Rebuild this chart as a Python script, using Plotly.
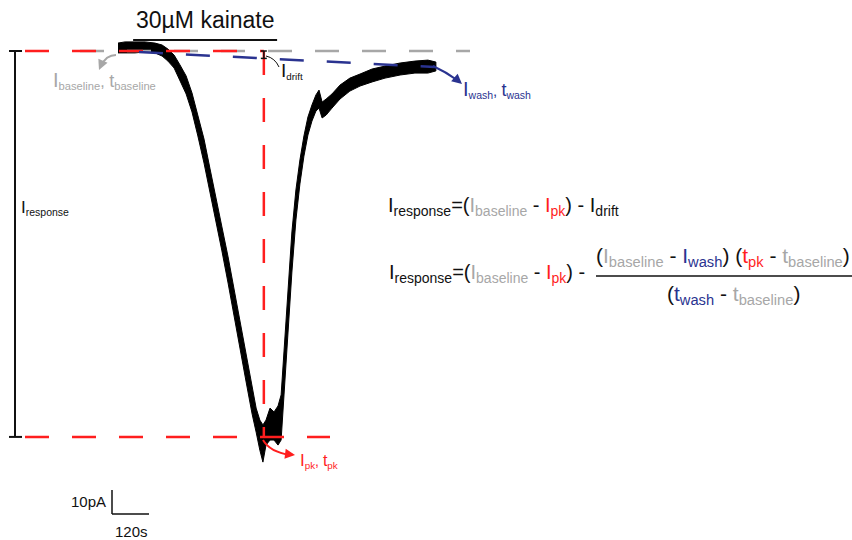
import plotly.graph_objects as go

# ---------------- data ----------------
# time (s) and the upper / lower envelope of the noisy current trace (pA)
trace_t = [0, 23, 55, 88, 120, 143, 162, 182, 201, 221, 240, 259, 279, 298, 318, 337, 357, 376, 396, 415,
           435, 448, 460, 470, 480, 493, 506, 519, 529, 538, 551, 564, 577, 590, 603, 616, 629, 642, 652, 662,
           675, 694, 720, 752, 785, 824, 866, 915, 963, 1005, 1031]
trace_hi = [3.3, 3.8, 3.8, 3.8, 3.3, 2.5, 0.8, -1.7, -5.8, -10.4, -17.5, -26.3, -36.7, -48.8, -60.8, -73.3,
            -85.8, -99.2, -112.9, -125.8, -139.6, -148.8, -153.8, -155.8, -153.8, -148.8, -150.4, -147.9,
            -143.3, -124.6, -100.4, -75.4, -57.9, -45.4, -35.4, -27.5, -22.5, -18.3, -16.3, -21.3, -20.0,
            -17.9, -14.2, -11.3, -9.6, -7.5, -6.3, -5.0, -4.2, -3.8, -4.6]
trace_lo = [-0.8, -0.8, -0.8, -0.4, -0.8, -2.1, -4.2, -7.1, -12.1, -17.9, -25.4, -35.4, -46.7, -58.8,
            -70.8, -83.3, -96.7, -110.0, -123.8, -137.5, -151.3, -158.8, -166.3, -171.3, -164.2, -162.1,
            -162.1, -164.2, -162.1, -141.3, -117.1, -92.1, -70.4, -55.4, -43.8, -35.0, -29.2, -25.0, -23.8,
            -27.9, -26.7, -23.8, -20.0, -16.7, -14.6, -12.9, -11.3, -10.0, -9.2, -9.2, -8.3]

I_baseline = 0.0
t_baseline = 0.0
I_pk = -160.8
t_pk = 473.0
I_wash = -6.7
t_wash = 1028.0

scale_I = 10      # pA
scale_t = 120     # s
scale_labels = ["10pA", "120s"]

drug_label = "30µM kainate"
drug_start = 49
drug_end = 516

# derived drift at the time of the peak (linear baseline drift)
I_drift_level = I_baseline + (I_wash - I_baseline) * (t_pk - t_baseline) / (t_wash - t_baseline)

# ---------------- layout helpers ----------------
W, H = 852, 540
SX = scale_t / 37.0     # seconds per pixel
SY = scale_I / 24.0     # pA per pixel
X0PX, Y0PX = 118, 51    # pixel position of t=0 / I=0


def T(px):
    return (px - X0PX) * SX


def A(py):
    return (Y0PX - py) * SY


def P(px, py):
    return px / W, 1 - py / H


GRAY = "#a7a7a7"
RED = "#ff1e1e"
BLUE = "#2a3390"
BLACK = "#111111"
FONT = "Liberation Sans, Arial, Helvetica, sans-serif"


def col(s, c):
    return f'<span style="color:{c}">{s}</span>'


def big(s, px):
    return f'<span style="font-size:{px}px">{s}</span>'


fig = go.Figure()

# noisy current trace as filled envelope
fig.add_trace(go.Scatter(
    x=trace_t + trace_t[::-1],
    y=trace_hi + trace_lo[::-1],
    fill="toself", fillcolor="black", mode="lines",
    line=dict(color="black", width=1), hoverinfo="skip", showlegend=False))

shapes = []
DASH = "24px,23px"
# gray baseline extension
shapes.append(dict(type="line", xref="x", yref="y", x0=T(80), x1=T(470), y0=I_baseline, y1=I_baseline,
                   line=dict(color=GRAY, width=2.5, dash=DASH)))
# red baseline
shapes.append(dict(type="line", xref="x", yref="y", x0=T(25), x1=t_pk, y0=I_baseline, y1=I_baseline,
                   line=dict(color=RED, width=2.5, dash=DASH)))
# red peak level
shapes.append(dict(type="line", xref="x", yref="y", x0=T(25), x1=T(330), y0=I_pk, y1=I_pk,
                   line=dict(color=RED, width=2.5, dash=DASH)))
# red vertical at t_pk
shapes.append(dict(type="line", xref="x", yref="y", x0=t_pk, x1=t_pk, y0=I_baseline, y1=I_pk,
                   line=dict(color=RED, width=2.5, dash=DASH)))
# blue drift line
shapes.append(dict(type="line", xref="x", yref="y", x0=t_baseline, x1=t_wash, y0=I_baseline, y1=I_wash,
                   line=dict(color=BLUE, width=2.5, dash="0px,21px,24px,2px")))

# response bar
xr = T(15)
shapes.append(dict(type="line", x0=xr, x1=xr, y0=I_baseline, y1=I_pk, line=dict(color=BLACK, width=2)))
for yv in (I_baseline, I_pk):
    shapes.append(dict(type="line", x0=T(9), x1=T(22), y0=yv, y1=yv, line=dict(color=BLACK, width=2)))

# drift marker
shapes.append(dict(type="line", x0=t_pk, x1=t_pk, y0=I_baseline, y1=I_drift_level,
                   line=dict(color=BLACK, width=1.5)))
for yv in (I_baseline, I_drift_level):
    shapes.append(dict(type="line", x0=t_pk - 3 * SX, x1=t_pk + 3 * SX, y0=yv, y1=yv,
                       line=dict(color=BLACK, width=1.5)))

# drug bar
shapes.append(dict(type="line", x0=drug_start, x1=drug_end, y0=A(40), y1=A(40), line=dict(color=BLACK, width=2)))

# scale bar
sbx, sby = T(112), A(514)
shapes.append(dict(type="line", x0=sbx, x1=sbx, y0=sby, y1=sby + scale_I, line=dict(color=BLACK, width=1.5)))
shapes.append(dict(type="line", x0=sbx, x1=sbx + scale_t, y0=sby, y1=sby, line=dict(color=BLACK, width=1.5)))


def curve(p0, c, p1, color, width):
    return dict(type="path", xref="x", yref="y",
                path=f"M {T(p0[0])},{A(p0[1])} Q {T(c[0])},{A(c[1])} {T(p1[0])},{A(p1[1])}",
                line=dict(color=color, width=width))


shapes.append(curve((116, 55), (106, 55), (101, 66), GRAY, 2))
shapes.append(curve((263, 440), (270, 452), (290, 455), RED, 2))
shapes.append(curve((433, 66), (446, 72), (457, 80), BLUE, 2))
shapes.append(curve((266, 56), (275, 58), (279, 67), BLACK, 1))

# fraction bar
fx0, fy = P(596, 276)
shapes.append(dict(type="line", xref="paper", yref="paper", x0=fx0, x1=1, y0=fy, y1=fy,
                   line=dict(color=BLACK, width=1.5)))

ann = []


def head(px, py, ax, ay, color):
    ann.append(dict(x=T(px), y=A(py), xref="x", yref="y", ax=ax, ay=ay, text="", showarrow=True,
                    arrowhead=2, arrowsize=1, arrowwidth=2, arrowcolor=color, standoff=0))


head(99, 70, 3, -7, GRAY)
head(295, 455, -8, -1, RED)
head(462, 84, -7, -6, BLUE)


def text(x, y, s, size, color=BLACK, xanchor="left", xref="x", yref="y"):
    ann.append(dict(x=x, y=y, xref=xref, yref=yref, text=s, showarrow=False, xanchor=xanchor,
                    yanchor="middle", font=dict(family=FONT, size=size, color=color)))


text((drug_start + drug_end) / 2, A(20), drug_label, 23, xanchor="center")
text(T(108), A(501), scale_labels[0], 15, xanchor="right")
text(T(131), A(531), scale_labels[1], 15, xanchor="center")

text(T(19), A(208), big("I", 17) + "<sub>response</sub>", 15)
text(T(51), A(80), big("I", 20) + "<sub>baseline</sub>, " + big("t", 18) + "<sub>baseline</sub>", 16, GRAY)
text(T(279), A(71), big("I", 19) + "<sub>drift</sub>", 14)
text(T(461), A(89), big("I", 20) + "<sub>wash</sub>, " + big("t", 18) + "<sub>wash</sub>", 15, BLUE)
text(T(298), A(461), big("I", 17) + "<sub>pk</sub>, " + big("t", 16) + "<sub>pk</sub>", 14, RED)

Ib = col("I<sub>baseline</sub>", GRAY)
tb = col("t<sub>baseline</sub>", GRAY)
Ipk = col("I<sub>pk</sub>", RED)
tpk = col("t<sub>pk</sub>", RED)
Iw = col("I<sub>wash</sub>", BLUE)
tw = col("t<sub>wash</sub>", BLUE)

eq1 = f"I<sub>response</sub>=({Ib} - {Ipk}) - I<sub>drift</sub>"
eq2 = f"I<sub>response</sub>=({Ib} - {Ipk}) -"
num = f"({Ib} - {Iw}) ({tpk} - {tb})"
den = f"({tw} - {tb})"

x, y = P(386, 207)
text(x, y, eq1, 20, xref="paper", yref="paper")
x, y = P(387, 273)
text(x, y, eq2, 20, xref="paper", yref="paper")
x, y = P(723, 257)
text(x, y, num, 21, xanchor="center", xref="paper", yref="paper")
x, y = P(733, 295)
text(x, y, den, 21, xanchor="center", xref="paper", yref="paper")

fig.update_layout(
    width=W, height=H, margin=dict(l=0, r=0, t=0, b=0),
    paper_bgcolor="white", plot_bgcolor="white",
    xaxis=dict(range=[T(0), T(W)], visible=False, fixedrange=True),
    yaxis=dict(range=[A(H), A(0)], visible=False, fixedrange=True),
    shapes=shapes, annotations=ann, showlegend=False,
    font=dict(family=FONT, color=BLACK),
)

fig.write_html("out.html", config={"displayModeBar": False},
               post_script="document.body.style.margin='0';")
